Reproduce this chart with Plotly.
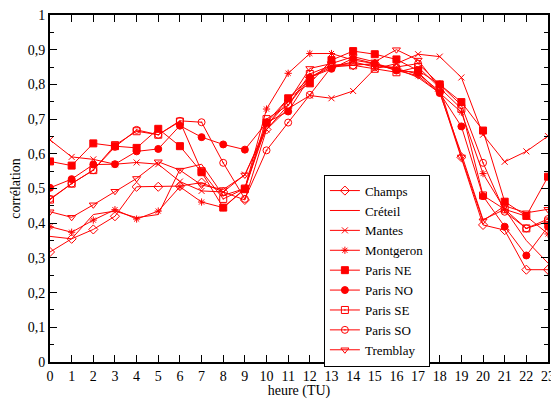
import plotly.graph_objects as go

hours = list(range(24))
x_ticks = list(range(24))
y_tickvals = [0, 0.1, 0.2, 0.3, 0.4, 0.5, 0.6, 0.7, 0.8, 0.9, 1.0]
y_ticktext = ["0", "0,1", "0,2", "0,3", "0,4", "0,5", "0,6", "0,7", "0,8", "0,9", "1"]

champs = [0.317, 0.355, 0.382, 0.42, 0.505, 0.505, 0.507, 0.517, 0.49, 0.467, 0.67, 0.74,
          0.82, 0.85, 0.855, 0.86, 0.845, 0.83, 0.78, 0.59, 0.395, 0.38, 0.266, 0.266]
creteil = [0.362, 0.355, 0.425, 0.435, 0.416, 0.425, 0.555, 0.57, 0.48, 0.5, 0.68, 0.76,
           0.82, 0.855, 0.86, 0.855, 0.845, 0.82, 0.775, 0.6, 0.41, 0.44, 0.35, 0.285]
mantes = [0.64, 0.591, 0.584, 0.57, 0.575, 0.57, 0.52, 0.493, 0.49, 0.54, 0.67, 0.73,
          0.768, 0.76, 0.781, 0.845, 0.86, 0.887, 0.88, 0.82, 0.655, 0.577, 0.607, 0.651]
montgeron = [0.39, 0.374, 0.409, 0.439, 0.412, 0.435, 0.505, 0.461, 0.445, 0.5, 0.729, 0.832,
             0.889, 0.889, 0.87, 0.86, 0.84, 0.825, 0.775, 0.72, 0.543, 0.44, 0.42, 0.369]
paris_ne = [0.578, 0.566, 0.63, 0.622, 0.617, 0.672, 0.622, 0.547, 0.445, 0.498, 0.69, 0.76,
            0.803, 0.87, 0.896, 0.887, 0.872, 0.84, 0.8, 0.749, 0.667, 0.462, 0.421, 0.534]
paris_no = [0.502, 0.527, 0.569, 0.57, 0.607, 0.614, 0.681, 0.648, 0.627, 0.612, 0.69, 0.722,
            0.82, 0.845, 0.875, 0.86, 0.84, 0.835, 0.775, 0.679, 0.478, 0.39, 0.307, 0.39]
paris_se = [0.468, 0.514, 0.553, 0.625, 0.665, 0.655, 0.693, 0.55, 0.47, 0.5, 0.7, 0.74,
            0.83, 0.855, 0.855, 0.845, 0.835, 0.85, 0.79, 0.73, 0.48, 0.44, 0.385, 0.405]
paris_so = [0.47, 0.514, 0.553, 0.62, 0.669, 0.655, 0.695, 0.691, 0.574, 0.47, 0.61, 0.69,
            0.77, 0.85, 0.865, 0.85, 0.85, 0.86, 0.8, 0.74, 0.574, 0.433, 0.385, 0.412]
tremblay = [0.433, 0.417, 0.453, 0.492, 0.529, 0.577, 0.553, 0.51, 0.497, 0.539, 0.68, 0.75,
            0.846, 0.86, 0.88, 0.865, 0.9, 0.87, 0.79, 0.591, 0.407, 0.45, 0.43, 0.44]

series = [
    ("Champs", champs, "diamond-open", 7),
    ("Créteil", creteil, None, 0),
    ("Mantes", mantes, "x-thin-open", 6),
    ("Montgeron", montgeron, "asterisk-open", 6),
    ("Paris NE", paris_ne, "square", 7),
    ("Paris NO", paris_no, "circle", 7),
    ("Paris SE", paris_se, "square-open-dot", 7),
    ("Paris SO", paris_so, "circle-open-dot", 7),
    ("Tremblay", tremblay, "triangle-down-open", 7),
]

RED = "#ff0000"
fig = go.Figure()
for name, vals, sym, size in series:
    if sym is None:
        fig.add_trace(go.Scatter(x=hours, y=vals, name=name, mode="lines",
                                 line=dict(color=RED, width=1)))
    else:
        fig.add_trace(go.Scatter(x=hours, y=vals, name=name, mode="lines+markers",
                                 line=dict(color=RED, width=1),
                                 marker=dict(symbol=sym, size=size, color=RED,
                                             line=dict(color=RED, width=1))))

axis_common = dict(showline=True, linecolor="black", linewidth=2, mirror="ticks",
                   ticks="inside", tickcolor="black", ticklen=7, tickwidth=1,
                   showgrid=False, zeroline=False, automargin=False,
                   ticklabeloverflow="allow",
                   tickfont=dict(family="Liberation Serif", size=14, color="black"))

# page body has an 8px default margin, so the figure is sized 8px smaller
fig.update_layout(
    width=551, height=391,
    margin=dict(l=42, r=11, t=7, b=37, autoexpand=False),
    paper_bgcolor="white", plot_bgcolor="white",
    font=dict(family="Liberation Serif", size=13, color="black"),
    showlegend=True,
    legend=dict(x=0.55, y=0.54, xanchor="left", yanchor="top",
                bgcolor="white", bordercolor="black", borderwidth=1,
                font=dict(family="Liberation Serif", size=13, color="black"),
                itemwidth=30, tracegroupgap=0),
)
fig.update_xaxes(range=[0, 23], tickvals=x_ticks, ticktext=[str(h) for h in x_ticks],
                 title=dict(text="heure (TU)", standoff=2,
                            font=dict(family="Liberation Serif", size=14)),
                 **axis_common)
fig.update_yaxes(range=[0, 1], tickvals=y_tickvals, ticktext=y_ticktext,
                 minor=dict(ticks="inside", dtick=0.05, ticklen=4, tickcolor="black"),
                 title=dict(text="corrélation", standoff=4,
                            font=dict(family="Liberation Serif", size=14)),
                 **axis_common)

fig.write_html("out.html")
